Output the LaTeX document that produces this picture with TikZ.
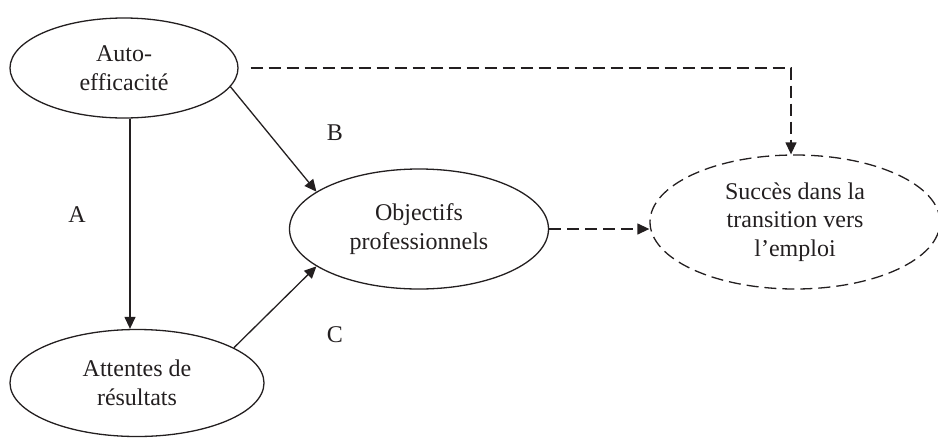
\documentclass[tikz,border=0pt]{standalone}
\usepackage{fontspec}
\setmainfont{Liberation Serif}
\usetikzlibrary{shapes.geometric,arrows.meta}
\definecolor{ink}{RGB}{35,31,32}
\begin{document}
\begin{tikzpicture}[x=1pt,y=-1pt,
  every node/.style={font=\fontsize{24}{28.5}\selectfont, text=ink},
  bubble/.style={ellipse, draw=ink, line width=1.3pt, inner sep=0pt, align=center},
  dashbubble/.style={bubble, dash pattern=on 12pt off 6pt},
  arr/.style={draw=ink, line width=1.3pt, -{Triangle[length=12pt,width=11pt]}},
  dasharr/.style={arr, dash pattern=on 12pt off 6pt},
  lbl/.style={inner sep=0pt}
]
\useasboundingbox (0,0) rectangle (938,437);
\node[bubble, minimum width=228pt, minimum height=100pt] (auto) at (124,68) {Auto-\\efficacité};
\node[bubble, minimum width=254pt, minimum height=107pt] (attentes) at (137,383) {Attentes de\\résultats};
\node[bubble, minimum width=259pt, minimum height=120pt] (objectifs) at (419,229) {Objectifs\\professionnels};
\node[dashbubble, minimum width=290pt, minimum height=134pt] (succes) at (795,222) {Succès dans la\\transition vers\\l’emploi};

\node[lbl] (la) at (77,215) {A};
\node[lbl] (lb) at (335,133) {B};
\node[lbl] (lc) at (335,335) {C};

\draw[arr] ([xshift=6pt]auto.south) -- ([xshift=-7pt]attentes.north);
\draw[arr] (auto.-10) -- (objectifs.160);
\draw[arr] (attentes.20) -- (objectifs.200);
\draw[dasharr] (objectifs.east) -- (objectifs.east -| succes.west);
\draw[dasharr] ([xshift=12pt]auto.east) -| ([xshift=-4pt]succes.north);
\end{tikzpicture}
\end{document}
